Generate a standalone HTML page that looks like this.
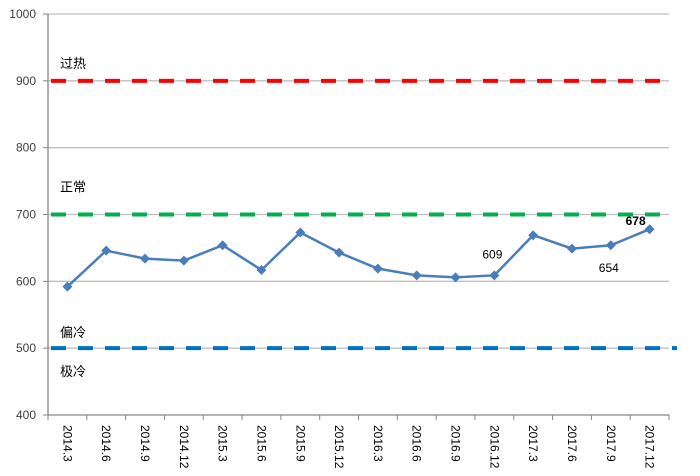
<!DOCTYPE html>
<html><head><meta charset="utf-8"><style>
body{margin:0;background:#fff;}
svg{display:block;font-family:"Liberation Sans","Noto Sans CJK SC",sans-serif;}
</style></head><body>
<svg id="chart" width="700" height="476" viewBox="0 0 700 476"></svg>
<script>
const categories=["2014.3","2014.6","2014.9","2014.12","2015.3","2015.6","2015.9","2015.12","2016.3","2016.6","2016.9","2016.12","2017.3","2017.6","2017.9","2017.12"];
const values=[592,646,634,631,654,617,673,643,619,609,606,609,669,649,654,678];
const yTicks=[400,500,600,700,800,900,1000];
const refLevels=[900,700,500];
const refColors=["#ff0000","#00b050","#0070c0"];
const zoneLabels=[["过热",900,-13],["正常",700,-23],["偏冷",500,-11],["极冷",500,28]];
const dataLabels=[[11,"609",false],[14,"654",false],[15,"678",true]];

const X0=48,X1=669,Y0=415,Y1=14;
const svg=document.getElementById('chart');
const NS="http://www.w3.org/2000/svg";
function y(v){return Y0-(v-400)/600*(Y0-Y1);}
function bw(){return (X1-X0)/categories.length;}
function x(i){return X0+bw()*(i+0.5);}
function mk(t,a,p){const e=document.createElementNS(NS,t);for(const k in a)e.setAttribute(k,a[k]);(p||svg).appendChild(e);return e;}

yTicks.forEach(v=>{
  const g=mk('line',{x1:X0,x2:X1,y1:y(v),y2:y(v),stroke:v===400?'#868686':'#bfbfbf','stroke-width':1.3});
  
  
  mk('line',{x1:X0-5,x2:X0,y1:y(v),y2:y(v),stroke:'#868686'});
  const t=mk('text',{x:X0-12,y:y(v)+4,'text-anchor':'end','font-size':12,fill:'#404040'});
  t.textContent=v;
  
  
});
const ax=mk('line',{x1:X0,x2:X0,y1:Y1,y2:Y0,stroke:'#868686','stroke-width':1.3});



refLevels.forEach((v,i)=>{
  const l=mk('line',{x1:51,x2:i===2?677:672,y1:y(v),y2:y(v),stroke:refColors[i],'stroke-width':4,'stroke-dasharray':'15 12'});
  
  
});
zoneLabels.forEach(z=>{
  const t=mk('text',{x:60,y:y(z[1])+z[2],'font-size':13,fill:'#000'});
  t.textContent=z[0];
  
  
});

categories.forEach((c,i)=>{
  const tx=X0+bw()*(i+1);
  mk('line',{x1:tx,x2:tx,y1:Y0,y2:Y0+5,stroke:'#868686'});
  const t=mk('text',{x:0,y:0,'font-size':12,fill:'#000',transform:`translate(${x(i)-4},${Y0+10}) rotate(90)`});
  t.textContent=c;
  
  
});
mk('line',{x1:X0,x2:X0,y1:Y0,y2:Y0+5,stroke:'#868686'});

const pl=mk('polyline',{points:values.map((v,i)=>x(i)+','+y(v)).join(' '),fill:'none',stroke:'#4a7ebb','stroke-width':2.5});


values.forEach((v,i)=>{
  const cx=x(i),cy=y(v);
  const p=mk('polygon',{points:`${cx},${cy-5} ${cx+5},${cy} ${cx},${cy+5} ${cx-5},${cy}`,fill:'#4a7ebb'});
  
  
});
dataLabels.forEach(d=>{
  const i=d[0],v=values[i];
  const t=mk('text',{x:x(i)-(d[2]?24:(i===14?12:12)),y:d[2]?y(v)-4:(i===14?y(v)+27:y(v)-17),'font-size':12,fill:'#000','font-weight':d[2]?'bold':'normal'});
  t.textContent=v;
  
  
});
</script>
</body></html>
